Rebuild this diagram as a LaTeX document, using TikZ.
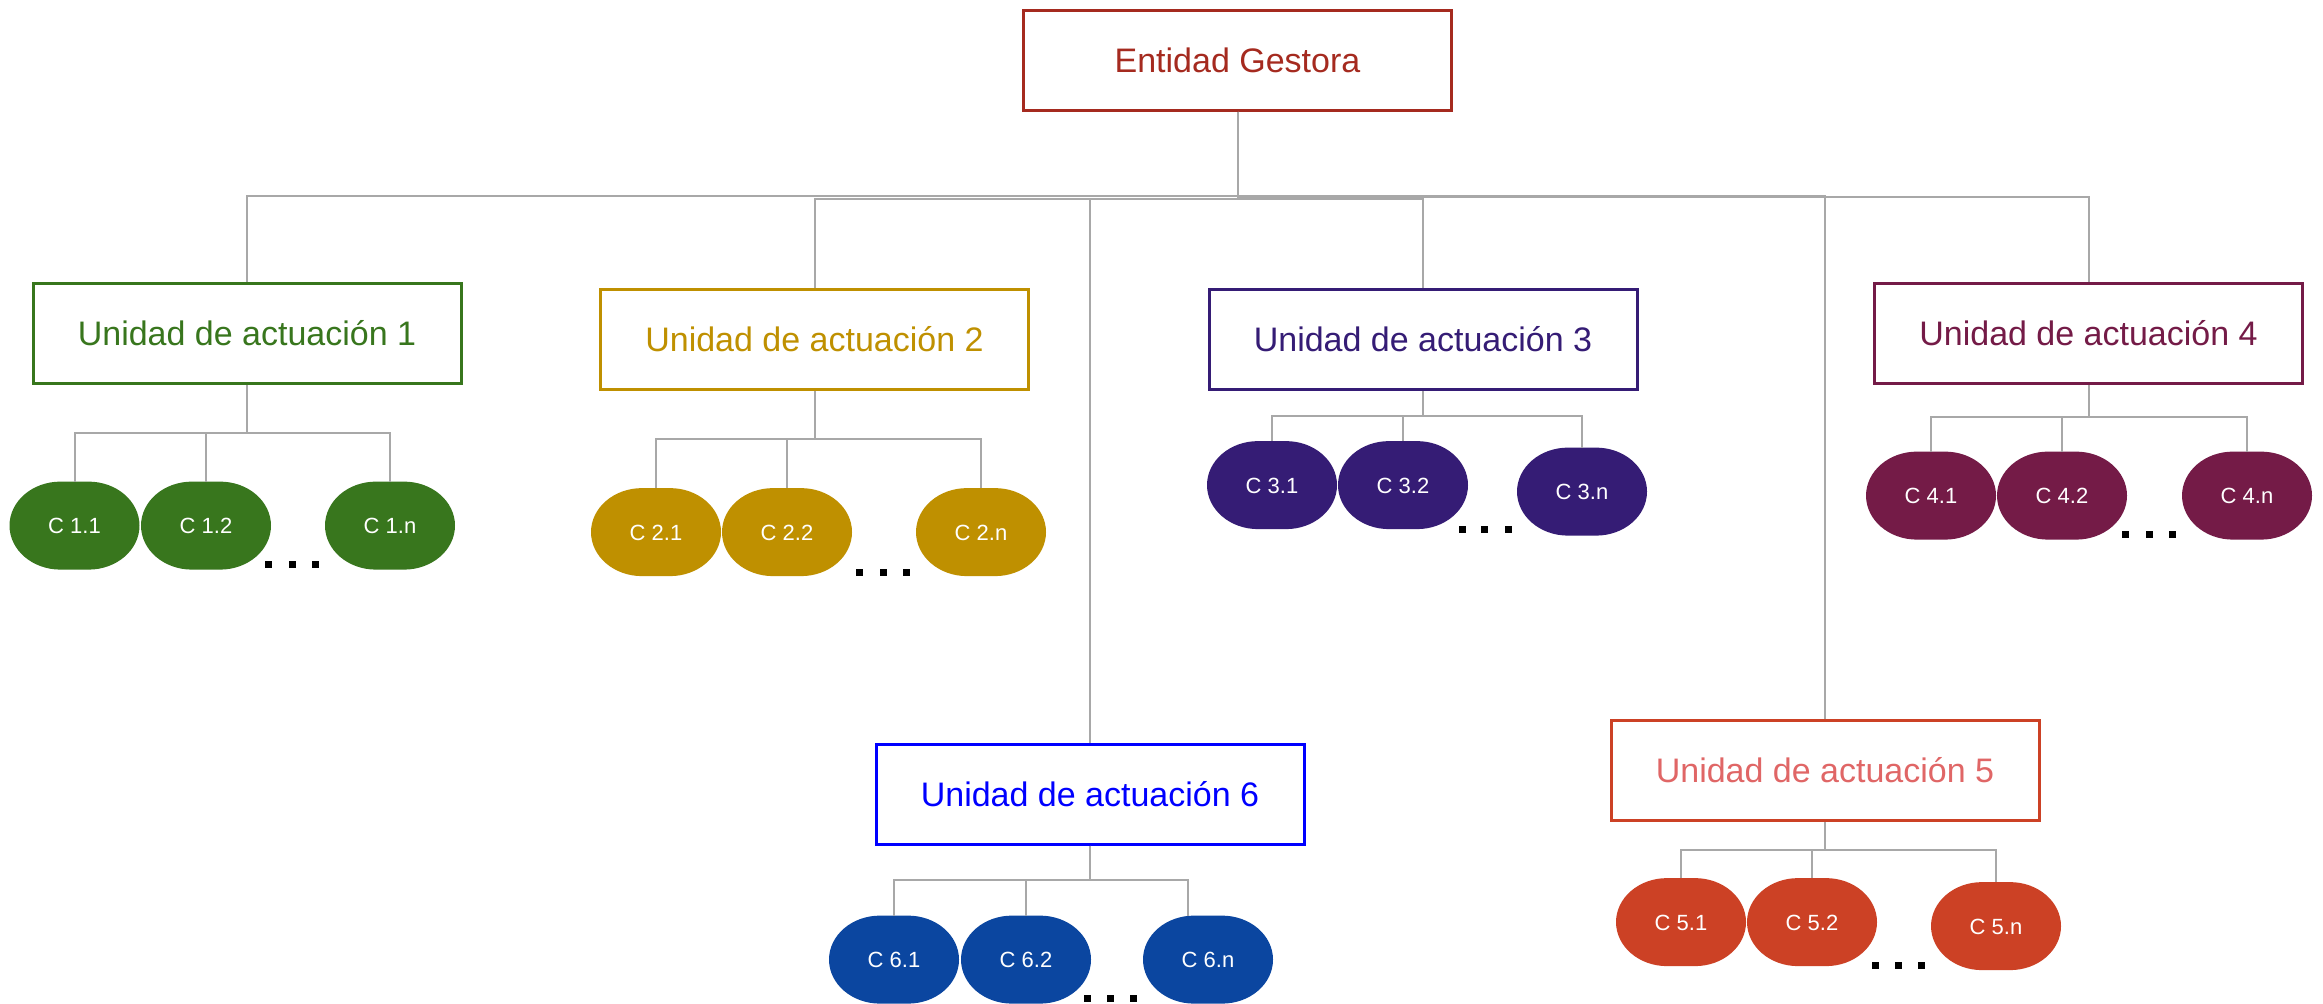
\documentclass[tikz,border=0pt]{standalone}
\usepackage{fontspec}
\setmainfont{Liberation Sans}
\definecolor{cE}{HTML}{A52A1F}
\definecolor{cA}{HTML}{38761D}
\definecolor{cB}{HTML}{BF9000}
\definecolor{cC}{HTML}{351C75}
\definecolor{cD}{HTML}{741B47}
\definecolor{cF}{HTML}{CC4125}
\definecolor{cFt}{HTML}{E06666}
\definecolor{cG}{HTML}{0000FF}
\definecolor{cGp}{HTML}{0B46A0}
\definecolor{linegray}{HTML}{A8A8A8}
\pgfdeclarelayer{bg}
\pgfsetlayers{bg,main}
\begin{document}
\begin{tikzpicture}[x=0.5pt,y=-0.5pt,
  ua/.style={draw=#1, text=#1, line width=1.5pt, minimum width=214pt, minimum height=50pt, inner sep=0pt, font=\fontsize{17}{20}\selectfont},
  pill/.style={minimum width=65pt, minimum height=44pt, inner sep=0pt, text=white, font=\fontsize{11}{13}\selectfont},
  conn/.style={draw=linegray, line width=1pt},
  dotsq/.style={fill=black, minimum size=3.5pt, inner sep=0pt}]
\useasboundingbox (0,0) rectangle (2323,1003);

% main boxes
\node[ua=cE] (E) at (1237.5,60) {Entidad Gestora};
\node[ua=cA] (U1) at (247,333.5) {Unidad de actuación 1};
\node[ua=cB] (U2) at (814.5,339.5) {Unidad de actuación 2};
\node[ua=cC] (U3) at (1423,339.5) {Unidad de actuación 3};
\node[ua=cD] (U4) at (2088.5,333.5) {Unidad de actuación 4};
\node[ua=cF, text=cFt] (U5) at (1825,770.5) {Unidad de actuación 5};
\node[ua=cG] (U6) at (1090,794) {Unidad de actuación 6};

% children
\node[pill] (C11) at (74.5,526) {C 1.1};
\node[pill] (C12) at (206,526) {C 1.2};
\node[pill] (C1n) at (390,526) {C 1.n};
\node[pill] (C21) at (656,532.5) {C 2.1};
\node[pill] (C22) at (787,532.5) {C 2.2};
\node[pill] (C2n) at (981,532.5) {C 2.n};
\node[pill] (C31) at (1272,485.5) {C 3.1};
\node[pill] (C32) at (1403,485.5) {C 3.2};
\node[pill] (C3n) at (1582,492) {C 3.n};
\node[pill] (C41) at (1931,496) {C 4.1};
\node[pill] (C42) at (2062,496) {C 4.2};
\node[pill] (C4n) at (2247,496) {C 4.n};
\node[pill] (C51) at (1681,922.5) {C 5.1};
\node[pill] (C52) at (1812,922.5) {C 5.2};
\node[pill] (C5n) at (1996,926.5) {C 5.n};
\node[pill] (C61) at (894,960) {C 6.1};
\node[pill] (C62) at (1026,960) {C 6.2};
\node[pill] (C6n) at (1208,960) {C 6.n};

% pill backgrounds (elliptical ends)
\begin{pgfonlayer}{bg}
\fill[white] (0,0) rectangle (2323,1003);
\foreach \c/\col in {C11/cA,C12/cA,C1n/cA,C21/cB,C22/cB,C2n/cB,C31/cC,C32/cC,C3n/cC,C41/cD,C42/cD,C4n/cD,C51/cF,C52/cF,C5n/cF,C61/cGp,C62/cGp,C6n/cGp}
  \fill[\col] ([xshift=-7pt]\c.north) arc[start angle=90,end angle=270,x radius=25.5pt,y radius=22pt]
     -- ++(14pt,0) arc[start angle=-90,end angle=90,x radius=25.5pt,y radius=22pt] -- cycle;
\end{pgfonlayer}

% main connectors
\coordinate (h196) at (0,196);
\coordinate (h197) at (0,197);
\coordinate (h199) at (0,199);
\draw[conn] (E.south) -- (E.south |- h196) -| (U1.north);
\draw[conn] (E.south) -- (E.south |- h199) -| (U2.north);
\draw[conn] (E.south) -- (E.south |- h199) -| (U6.north);
\draw[conn] (E.south) -- (E.south |- h199) -| (U3.north);
\draw[conn] (E.south) -- (E.south |- h197) -| (U4.north);
\draw[conn] (E.south) -- (E.south |- h196) -| (U5.north);

% child connectors
\coordinate (b1) at (0,433);
\coordinate (b2) at (0,439);
\coordinate (b3) at (0,416);
\coordinate (b4) at (0,417);
\coordinate (b5) at (0,850);
\coordinate (b6) at (0,880);
\foreach \c in {C11,C12,C1n} \draw[conn] (U1.south) -- (U1.south |- b1) -| (\c.north);
\foreach \c in {C21,C22,C2n} \draw[conn] (U2.south) -- (U2.south |- b2) -| (\c.north);
\foreach \c in {C31,C32,C3n} \draw[conn] (U3.south) -- (U3.south |- b3) -| (\c.north);
\foreach \c in {C41,C42,C4n} \draw[conn] (U4.south) -- (U4.south |- b4) -| (\c.north);
\foreach \c in {C51,C52,C5n} \draw[conn] (U5.south) -- (U5.south |- b5) -| (\c.north);
\foreach \c in {C61,C62} \draw[conn] (U6.south) -- (U6.south |- b6) -| (\c.north);
\draw[conn] (U6.south) -- (U6.south |- b6) -| ([xshift=-10pt]C6n.north);

% ellipsis dots
\foreach \x in {268,292,315} \node[dotsq] (d1\x) at (\x,564) {};
\foreach \x in {859,883,906} \node[dotsq] (d2\x) at (\x,572) {};
\foreach \x in {1462,1484,1508} \node[dotsq] (d3\x) at (\x,529) {};
\foreach \x in {2125,2149,2172} \node[dotsq] (d4\x) at (\x,534) {};
\foreach \x in {1875,1898,1921} \node[dotsq] (d5\x) at (\x,965) {};
\foreach \x in {1087,1110,1133} \node[dotsq] (d6\x) at (\x,998) {};
\end{tikzpicture}
\end{document}
